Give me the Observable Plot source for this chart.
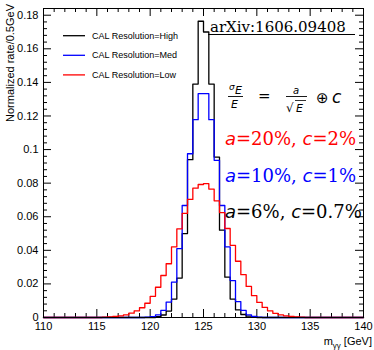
<!DOCTYPE html>
<html><head><meta charset="utf-8">
<script src="https://cdn.jsdelivr.net/npm/d3@7"></script>
<script src="https://cdn.jsdelivr.net/npm/@observablehq/plot@0.6"></script>
<style>body{margin:0;background:#fff} svg{display:block;background:#fff}</style>
</head><body><div id="chart"></div>
<script>
// ---- data ----
const massMin = 110, massMax = 140, binWidth = 0.5;   // m_gg histogram range, GeV
const seriesNames = ["CAL Resolution=High", "CAL Resolution=Med", "CAL Resolution=Low"];
const seriesColors = ["#000000", "#0000ff", "#ff0000"];
// normalized rate per 0.5 GeV bin, bins 110.0-110.5 ... 139.5-140.0 (60 bins)
const rateHigh = [
  0,0,0,0,0,0,0,0,0,0,          // 110-115
  0,0,0,0,0,0,0,0,0,0,          // 115-120
  0,0.0005,0.0015,0.0038,0.0110,0.0235,0.0500,0.0940,0.1390,0.1764, // 120-125
  0.1700,0.1390,0.0955,0.0520,0.0240,0.0110,0.0045,0.0018,0.0008,0.0003, // 125-130
  0,0,0,0,0,0,0,0,0,0,          // 130-135
  0,0,0,0,0,0,0,0,0,0           // 135-140
];
const rateMed = [
  0,0,0,0,0,0,0,0,0,0,
  0,0,0,0,0,0,0,0,0,0.0002,
  0.0005,0.0016,0.0042,0.0092,0.0211,0.0410,0.0667,0.0975,0.1178,0.1333,
  0.1333,0.1178,0.0936,0.0667,0.0420,0.0220,0.0095,0.0042,0.0016,0.0006,
  0.0002,0,0,0,0,0,0,0,0,0,
  0,0,0,0,0,0,0,0,0,0
];
const rateLow = [
  0,0,0,0,0,0,0,0,0,0,
  0,0.0002,0.0004,0.0007,0.0010,0.0016,0.0026,0.0040,0.0058,0.0085,
  0.0126,0.0180,0.0250,0.0320,0.0420,0.0528,0.0620,0.0703,0.0770,0.0792,
  0.0797,0.0765,0.0695,0.0625,0.0530,0.0430,0.0335,0.0255,0.0185,0.0130,
  0.0090,0.0060,0.0040,0.0025,0.0016,0.0010,0.0006,0.0004,0.0002,0,
  0,0,0,0,0,0,0,0,0,0
];
const xMajorTicks = [110,115,120,125,130,135,140];
const yMajorTicks = [0,0.02,0.04,0.06,0.08,0.1,0.12,0.14,0.16,0.18];
const yMax = 0.184;
const annotationLines = [
  {a: "20%", c: "2%", color: "#ff0000"},
  {a: "10%", c: "1%", color: "#0000ff"},
  {a: "6%", c: "0.7%", color: "#000000"}
];
const sourceLabel = "arXiv:1606.09408";
const yTitle = "Normalized rate/0.5GeV";

// ---- build step tables ----
const rateSets = [rateHigh, rateMed, rateLow];
const steps = [];
rateSets.forEach((vals, s) => {
  vals.forEach((v, i) => steps.push({series: seriesNames[s], m: massMin + i*binWidth, v}));
  steps.push({series: seriesNames[s], m: massMax, v: vals[vals.length-1]});
});
const xMinor = d3.range(massMin, massMax + 0.001, 1).filter(d => !xMajorTicks.includes(d));
const yMinor = d3.range(0, yMax, 0.004).filter(d => !yMajorTicks.some(t => Math.abs(t-d) < 1e-6));

const W = 374, H = 350, mt = 8, mr = 11, mb = 33, ml = 43;
const iw = W - ml - mr, ih = H - mt - mb;
const fmt = d => d === 0 ? "0" : String(+d.toFixed(2));

const plot = Plot.plot({
  width: W, height: H,
  marginTop: mt, marginRight: mr, marginBottom: mb, marginLeft: ml,
  style: {fontFamily: "'Liberation Sans', Arial, sans-serif", fontSize: "11px", color: "#000", background: "#fff"},
  x: {domain: [massMin, massMax]},
  y: {domain: [0, yMax]},
  color: {domain: seriesNames, range: seriesColors},
  marks: [
    // ticks inside the frame on all four sides
    Plot.tickX(xMajorTicks, {x: d => d, insetTop: ih - 8, stroke: "#000"}),
    Plot.tickX(xMinor, {x: d => d, insetTop: ih - 4, stroke: "#000"}),
    Plot.tickX(xMajorTicks, {x: d => d, insetBottom: ih - 8, stroke: "#000"}),
    Plot.tickX(xMinor, {x: d => d, insetBottom: ih - 4, stroke: "#000"}),
    Plot.tickY(yMajorTicks, {y: d => d, insetRight: iw - 8, stroke: "#000"}),
    Plot.tickY(yMinor, {y: d => d, insetRight: iw - 4, stroke: "#000"}),
    Plot.tickY(yMajorTicks, {y: d => d, insetLeft: iw - 8, stroke: "#000"}),
    Plot.tickY(yMinor, {y: d => d, insetLeft: iw - 4, stroke: "#000"}),
    Plot.axisX({ticks: xMajorTicks, tickSize: 0, tickPadding: 5, tickFormat: d => d, label: null}),
    Plot.axisY({ticks: yMajorTicks, tickSize: 0, tickPadding: 5, tickFormat: fmt, label: null}),
    Plot.line(steps, {x: "m", y: "v", z: "series", stroke: "series", curve: "step-after", strokeWidth: 1.3}),
    Plot.frame({stroke: "#000"})
  ]
});
document.getElementById("chart").append(plot);

// ---- annotations ----
const svg = d3.select(plot);
const ann = svg.append("g").attr("text-anchor", "start");
const sans = "'Liberation Sans', Arial, sans-serif";
const dvSans = "'DejaVu Sans', sans-serif";
const dvSerif = "'DejaVu Serif', serif";

// y title
ann.append("text").attr("transform", "translate(14,4) rotate(-90)")
  .attr("text-anchor", "end").attr("font-family", sans).attr("font-size", 11).text(yTitle);
// x title
const xt = ann.append("text").attr("x", 372).attr("y", 345).attr("text-anchor", "end")
  .attr("font-family", sans).attr("font-size", 11);
xt.append("tspan").text("m");
xt.append("tspan").attr("font-size", 8).attr("dy", 2.5).text("γγ");
xt.append("tspan").attr("dy", -2.5).text(" [GeV]");

// legend
seriesNames.forEach((name, i) => {
  const y = 35.7 + 19.6*i;
  ann.append("line").attr("x1", 63).attr("x2", 85).attr("y1", y).attr("y2", y)
    .attr("stroke", seriesColors[i]).attr("stroke-width", 1.3);
  ann.append("text").attr("x", 92).attr("y", y).attr("dy", "0.35em")
    .attr("font-family", sans).attr("font-size", 9).text(name);
});

// arXiv label
ann.append("text").attr("x", 210).attr("y", 31.5).attr("font-family", dvSerif)
  .attr("font-size", 15).text(sourceLabel);
ann.append("line").attr("x1", 208).attr("x2", 355).attr("y1", 34.5).attr("y2", 34.5)
  .attr("stroke", "#000").attr("stroke-width", 1);

// formula  sigma_E/E = a/sqrt(E) (+) c
const f = ann.append("g").attr("fill", "#000");
f.append("text").attr("x", 229).attr("y", 90).attr("font-family", dvSans).attr("font-style", "italic").attr("font-size", 9).text("σ");
f.append("text").attr("x", 235).attr("y", 93.5).attr("font-family", dvSans).attr("font-style", "italic").attr("font-size", 11).text("E");
f.append("line").attr("x1", 228).attr("x2", 243).attr("y1", 96.5).attr("y2", 96.5).attr("stroke", "#000").attr("stroke-width", 0.9);
f.append("text").attr("x", 231).attr("y", 107.5).attr("font-family", dvSans).attr("font-style", "italic").attr("font-size", 11).text("E");
f.append("text").attr("x", 258).attr("y", 101).attr("font-family", dvSerif).attr("font-size", 15).text("=");
f.append("text").attr("x", 293).attr("y", 93.5).attr("font-family", dvSans).attr("font-style", "italic").attr("font-size", 10).text("a");
f.append("line").attr("x1", 286).attr("x2", 307).attr("y1", 96.5).attr("y2", 96.5).attr("stroke", "#000").attr("stroke-width", 0.9);
f.append("text").attr("x", 286).attr("y", 112).attr("font-family", dvSans).attr("font-size", 12).text("√");
f.append("line").attr("x1", 295).attr("x2", 306).attr("y1", 100.5).attr("y2", 100.5).attr("stroke", "#000").attr("stroke-width", 0.8);
f.append("text").attr("x", 296).attr("y", 112).attr("font-family", dvSans).attr("font-style", "italic").attr("font-size", 11).text("E");
f.append("text").attr("x", 316).attr("y", 103).attr("font-family", dvSans).attr("font-size", 15).text("⊕");
f.append("text").attr("x", 332).attr("y", 103).attr("font-family", dvSans).attr("font-style", "italic").attr("font-size", 17).text("c");

// resolution parameter lines
const baselines = [145, 182, 218];
annotationLines.forEach((d, i) => {
  const t = ann.append("text").attr("x", 225).attr("y", baselines[i]).attr("fill", d.color)
    .attr("font-family", dvSerif).attr("font-size", 18);
  t.append("tspan").attr("font-family", dvSans).attr("font-style", "italic").text("a");
  t.append("tspan").text("=" + d.a + ", ");
  t.append("tspan").attr("font-family", dvSans).attr("font-style", "italic").text("c");
  t.append("tspan").text("=" + d.c);
});
</script>
</body></html>
